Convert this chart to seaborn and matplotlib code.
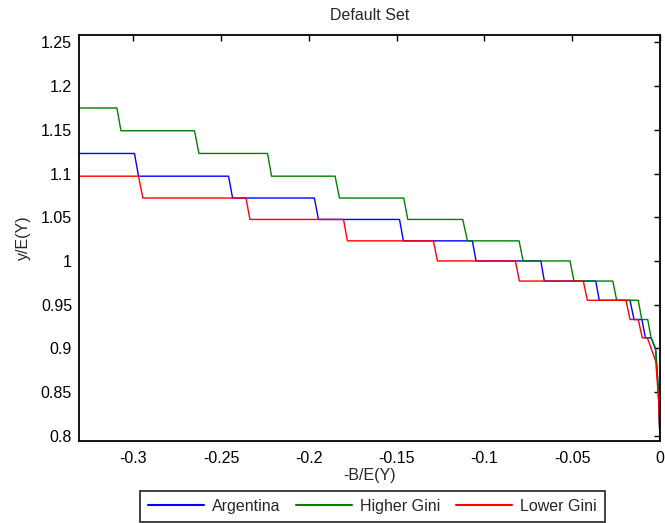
import numpy as np
import pandas as pd
import matplotlib
matplotlib.use("Agg")
import matplotlib.pyplot as plt
import seaborn as sns

# Policy curves: output relative to mean vs. debt relative to mean
series_names = ["Argentina", "Higher Gini", "Lower Gini"]

argentina_x = [-0.331, -0.2994, -0.2971, -0.2458, -0.2435, -0.1969, -0.1946,
               -0.1484, -0.1462, -0.1069, -0.1048, -0.0679, -0.0659, -0.0366,
               -0.0346, -0.0171, -0.0148, -0.0103, -0.0083, -0.0050, -0.0025,
               -0.0010, 0.0]
argentina_y = [1.123, 1.123, 1.097, 1.097, 1.072, 1.072, 1.0475, 1.0475, 1.023,
               1.023, 1.000, 1.000, 0.977, 0.977, 0.955, 0.955, 0.933, 0.933,
               0.912, 0.912, 0.899, 0.855, 0.795]

higher_x = [-0.331, -0.3094, -0.3071, -0.2652, -0.2627, -0.2236, -0.2213,
            -0.1851, -0.1826, -0.1460, -0.1437, -0.1124, -0.1097, -0.0803,
            -0.0780, -0.0513, -0.0490, -0.0269, -0.0247, -0.0124, -0.0104,
            -0.0070, -0.0051, -0.0025, -0.0010, 0.0]
higher_y = [1.175, 1.175, 1.149, 1.149, 1.123, 1.123, 1.097, 1.097, 1.072,
            1.072, 1.0475, 1.0475, 1.023, 1.023, 1.000, 1.000, 0.977, 0.977,
            0.955, 0.955, 0.933, 0.933, 0.912, 0.900, 0.855, 0.795]

lower_x = [-0.331, -0.2971, -0.2946, -0.2359, -0.2336, -0.1803, -0.1781,
           -0.1291, -0.1268, -0.0824, -0.0801, -0.0437, -0.0414, -0.0194,
           -0.0171, -0.0124, -0.0101, -0.0072, -0.0024, -0.0008, 0.0]
lower_y = [1.097, 1.097, 1.072, 1.072, 1.0475, 1.0475, 1.023, 1.023, 1.000,
           1.000, 0.977, 0.977, 0.955, 0.955, 0.933, 0.933, 0.912, 0.912,
           0.885, 0.840, 0.795]

x_ticks = [-0.3, -0.25, -0.2, -0.15, -0.1, -0.05, 0.0]
x_tick_labels = ["-0.3", "-0.25", "-0.2", "-0.15", "-0.1", "-0.05", "0"]
y_ticks = [0.8, 0.85, 0.9, 0.95, 1.0, 1.05, 1.1, 1.15, 1.2, 1.25]
y_tick_labels = ["0.8", "0.85", "0.9", "0.95", "1", "1.05", "1.1", "1.15", "1.2", "1.25"]

frames = []
for name, xs, ys in zip(series_names,
                        [argentina_x, higher_x, lower_x],
                        [argentina_y, higher_y, lower_y]):
    frames.append(pd.DataFrame({"debt": xs, "output": ys, "case": name}))
df = pd.concat(frames, ignore_index=True)

FS = 11.5
sns.set_theme(style="white")
plt.rcParams["font.family"] = ["Liberation Sans", "DejaVu Sans"]
plt.rcParams["font.size"] = FS

fig = plt.figure(figsize=(6.65, 5.23), dpi=100)
ax = fig.add_axes([0.1188, 0.1568, 0.8737, 0.7762])

palette = {"Argentina": "#0000ff", "Higher Gini": "#008000", "Lower Gini": "#ff0000"}
sns.lineplot(data=df, x="debt", y="output", hue="case", hue_order=series_names,
             palette=palette, sort=False, estimator=None, units="case",
             linewidth=1.0, ax=ax, legend=True)

ax.set_xlim(-0.331, 0.0)
ax.set_ylim(0.794, 1.2585)
ax.set_xticks(x_ticks)
ax.set_xticklabels(x_tick_labels)
ax.set_yticks(y_ticks)
ax.set_yticklabels(y_tick_labels)
ax.tick_params(direction="in", length=4, width=1, top=True, right=True,
               labelsize=FS, colors="black", pad=5)
ax.tick_params(axis="x", pad=7)
for s in ax.spines.values():
    s.set_visible(True)
    s.set_color("black")
    s.set_linewidth(1.3)

ax.set_title("Default Set", fontsize=FS, pad=11)
ax.set_xlabel("-B/E(Y)", fontsize=FS, labelpad=2)
ax.set_ylabel("y/E(Y)", fontsize=FS, labelpad=7)

handles, labels = ax.get_legend_handles_labels()
ax.legend_.remove()
leg = fig.legend(handles, labels, ncol=3, loc="center",
                 bbox_to_anchor=(0.56, 0.032), frameon=True, fancybox=False,
                 fontsize=FS, handlelength=3.5, handletextpad=0.5,
                 columnspacing=1.0, borderpad=0.5, borderaxespad=0.0)
leg.get_frame().set_edgecolor("black")
leg.get_frame().set_linewidth(1.3)
for line in leg.get_lines():
    line.set_linewidth(1.5)

fig.savefig("out.png", dpi=100)
